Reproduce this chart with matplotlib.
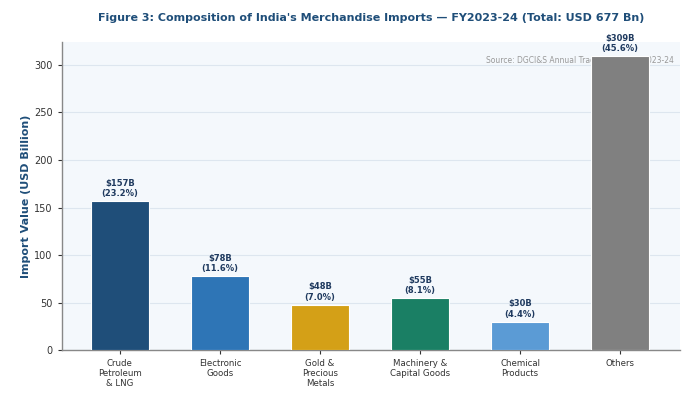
import matplotlib
matplotlib.use("Agg")
import matplotlib.pyplot as plt

categories = ["Crude\nPetroleum\n& LNG", "Electronic\nGoods", "Gold &\nPrecious\nMetals",
              "Machinery &\nCapital Goods", "Chemical\nProducts", "Others"]
values = [157, 78, 48, 55, 30, 309]
shares = [23.2, 11.6, 7.0, 8.1, 4.4, 45.6]
colors = ["#1f4e79", "#2e75b6", "#d4a017", "#1a7f64", "#5b9bd5", "#808080"]

fig = plt.figure(figsize=(6.87, 3.97), dpi=100)
ax = fig.add_axes([0.090, 0.118, 0.900, 0.776])
ax.set_facecolor("#f4f8fc")

x = list(range(len(categories)))
bars = ax.bar(x, values, width=0.58, color=colors, edgecolor="white", linewidth=0.8, zorder=3)
for b, v, s in zip(bars, values, shares):
    ax.text(b.get_x() + b.get_width() / 2, v + 3, f"${v}B\n({s}%)", ha="center", va="bottom",
            fontsize=6.0, fontweight="bold", color="#1f3a5f", linespacing=1.2, zorder=4)

ax.set_xticks(x)
ax.set_xticklabels(categories, fontsize=6.2, color="#333333", linespacing=1.15)
ax.set_xlim(-0.58, 5.6)
ax.set_ylim(0, 324)
ax.set_yticks([0, 50, 100, 150, 200, 250, 300])
ax.tick_params(axis="y", labelsize=7, colors="#333333", length=3)
ax.tick_params(axis="x", length=3, colors="#333333")
ax.grid(axis="y", color="#dde6ef", linewidth=0.8, zorder=0)
ax.set_axisbelow(True)
for sp in ["top", "right"]:
    ax.spines[sp].set_visible(False)
for sp in ["left", "bottom"]:
    ax.spines[sp].set_color("#888888")
    ax.spines[sp].set_linewidth(1.0)

ax.set_ylabel("Import Value (USD Billion)", fontsize=8, fontweight="bold", color="#1f4e79", labelpad=2)
fig.text(0.540, 0.955, "Figure 3: Composition of India's Merchandise Imports — FY2023-24 (Total: USD 677 Bn)",
         ha="center", va="center", fontsize=8.0, fontweight="bold", color="#1f4e79")
ax.text(0.99, 0.94, "Source: DGCI&S Annual Trade Statistics, 2023-24", transform=ax.transAxes,
        ha="right", va="center", fontsize=5.5, color="#999999", zorder=2)

fig.savefig("out.png", dpi=100)
